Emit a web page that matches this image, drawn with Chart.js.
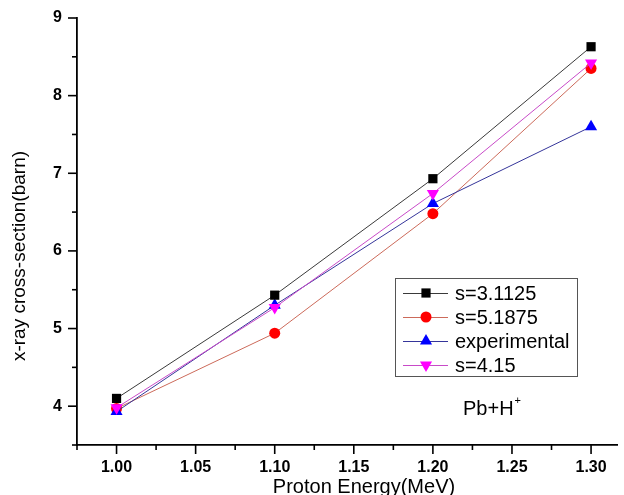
<!DOCTYPE html>
<html>
<head>
<meta charset="utf-8">
<script src="https://cdn.jsdelivr.net/npm/chart.js@4.4.1/dist/chart.umd.min.js"></script>
<style>
  html, body { margin: 0; padding: 0; background: #fff; }
  #wrap { width: 624px; height: 495px; position: relative; }
</style>
</head>
<body>
<div id="wrap"><canvas id="chart"></canvas></div>
<script>
// data
const energies = [1.00, 1.10, 1.20, 1.30];
const s31125 = [4.10, 5.43, 6.93, 8.63];
const s51875 = [3.97, 4.94, 6.48, 8.35];
const experimental = [3.93, 5.30, 6.61, 7.60];
const s415 = [3.98, 5.27, 6.74, 8.42];
const seriesNames = ['s=3.1125', 's=5.1875', 'experimental', 's=4.15'];
const xTickLabels = ['1.00', '1.05', '1.10', '1.15', '1.20', '1.25', '1.30'];
const yTickLabels = ['4', '5', '6', '7', '8', '9'];
const xTitle = 'Proton Energy(MeV)';
const yTitle = 'x-ray cross-section(barn)';

const FONT = '"Liberation Sans", Arial, sans-serif';

const toPoints = ys => energies.map((x, i) => ({ x: x, y: ys[i] }));

function withMinors(labels, half) {
  const out = [];
  labels.map(Number).forEach(m => {
    out.push({ value: +(m - half).toFixed(4) });
    out.push({ value: m });
  });
  return out;
}

const styles = [
  { line: '#3a3a3a', fill: '#000000', pointStyle: 'rect', radius: 6.5, rotation: 0 },
  { line: '#cc6a5a', fill: '#ff0000', pointStyle: 'circle', radius: 5.5, rotation: 0 },
  { line: '#35359a', fill: '#0000ff', pointStyle: 'triangle', radius: 7, rotation: 0 },
  { line: '#c84ac8', fill: '#ff00ff', pointStyle: 'triangle', radius: 7, rotation: 180 }
];
const series = [s31125, s51875, experimental, s415];

const datasets = series.map((ys, i) => ({
  label: seriesNames[i],
  data: toPoints(ys),
  borderColor: styles[i].line,
  borderWidth: 1,
  backgroundColor: styles[i].fill,
  pointBackgroundColor: styles[i].fill,
  pointBorderColor: styles[i].fill,
  pointBorderWidth: 0,
  pointStyle: styles[i].pointStyle,
  pointRadius: styles[i].radius,
  pointRotation: styles[i].rotation,
  tension: 0,
  order: [1, 3, 2, 0][i]
}));

// outward tick marks, long for labelled ticks, short for minor ones
const tickMarks = {
  id: 'tickMarks',
  afterDraw(chart) {
    const ctx = chart.ctx;
    const xs = chart.scales.x, ys = chart.scales.y;
    ctx.save();
    ctx.strokeStyle = '#000';
    ctx.lineWidth = 1.6;
    xs.ticks.forEach(t => {
      const px = xs.getPixelForValue(t.value);
      const len = t.label ? 9 : 5;
      ctx.beginPath();
      ctx.moveTo(px, xs.top);
      ctx.lineTo(px, xs.top + len);
      ctx.stroke();
    });
    ys.ticks.forEach(t => {
      const py = ys.getPixelForValue(t.value);
      const len = t.label ? 9 : 5;
      ctx.beginPath();
      ctx.moveTo(ys.right, py);
      ctx.lineTo(ys.right - len, py);
      ctx.stroke();
    });
    ctx.restore();
  }
};

// axis titles, placed where the figure has them
const axisTitles = {
  id: 'axisTitles',
  afterDraw(chart) {
    const ctx = chart.ctx;
    ctx.save();
    ctx.fillStyle = '#000';
    ctx.textAlign = 'center';
    ctx.textBaseline = 'middle';
    ctx.font = '20px ' + FONT;
    ctx.fillText(xTitle, 364, 487);
    ctx.font = '19px ' + FONT;
    ctx.translate(20, 256);
    ctx.rotate(-Math.PI / 2);
    ctx.fillText(yTitle, 0, 0);
    ctx.restore();
  }
};

function marker(ctx, st, x, y) {
  if (Chart.helpers && Chart.helpers.drawPoint) {
    ctx.fillStyle = st.fill;
    ctx.strokeStyle = st.fill;
    ctx.lineWidth = 0;
    Chart.helpers.drawPoint(ctx, { pointStyle: st.pointStyle, radius: st.radius, rotation: st.rotation, borderWidth: 0 }, x, y);
  }
}

// boxed legend and the Pb+H+ note inside the plot
const boxLegend = {
  id: 'boxLegend',
  afterDraw(chart) {
    const ctx = chart.ctx;
    ctx.save();
    ctx.strokeStyle = '#555';
    ctx.lineWidth = 1;
    ctx.strokeRect(395.5, 278.5, 182, 98);
    const rows = [293, 317, 341, 365];
    ctx.font = '20px ' + FONT;
    ctx.textBaseline = 'middle';
    ctx.textAlign = 'left';
    rows.forEach((ry, i) => {
      const st = styles[i];
      ctx.strokeStyle = st.line;
      ctx.lineWidth = 1;
      ctx.beginPath();
      ctx.moveTo(403, ry + 0.5);
      ctx.lineTo(448, ry + 0.5);
      ctx.stroke();
      marker(ctx, st, 426, ry);
      ctx.fillStyle = '#000';
      ctx.fillText(seriesNames[i], 455, ry + 1);
    });
    ctx.font = '20px ' + FONT;
    ctx.textBaseline = 'alphabetic';
    ctx.fillStyle = '#000';
    ctx.fillText('Pb+H', 463, 415);
    const w = ctx.measureText('Pb+H').width;
    ctx.font = '11px ' + FONT;
    ctx.fillText('+', 463 + w + 1, 404);
    ctx.restore();
  }
};

new Chart(document.getElementById('chart'), {
  type: 'line',
  data: { datasets: datasets },
  options: {
    responsive: true,
    maintainAspectRatio: false,
    animation: false,
    events: [],
    layout: { padding: { top: 18, right: 0, left: 0, bottom: 0 } },
    plugins: { legend: { display: false }, tooltip: { enabled: false } },
    scales: {
      x: {
        type: 'linear',
        min: 0.975,
        max: 1.3164,
        afterBuildTicks: s => { s.ticks = withMinors(xTickLabels, 0.025); },
        afterFit: s => { s.height = 50; },
        grid: { display: false, drawTicks: true, tickLength: 9 },
        border: { display: true, color: '#000', width: 1.8 },
        ticks: {
          autoSkip: false,
          maxRotation: 0,
          padding: 4,
          color: '#000',
          font: { family: FONT, size: 16, weight: 'bold' },
          callback: v => {
            const i = xTickLabels.map(Number).findIndex(m => Math.abs(m - v) < 1e-6);
            return i >= 0 ? xTickLabels[i] : '';
          }
        },
        title: { display: false }
      },
      y: {
        type: 'linear',
        min: 3.5,
        max: 9,
        afterBuildTicks: s => { s.ticks = withMinors(yTickLabels, 0.5); },
        afterFit: s => { s.width = 77; },
        grid: { display: false, drawTicks: true, tickLength: 9 },
        border: { display: true, color: '#000', width: 1.8 },
        ticks: {
          autoSkip: false,
          padding: 6,
          color: '#000',
          font: { family: FONT, size: 16, weight: 'bold' },
          callback: v => {
            const i = yTickLabels.map(Number).findIndex(m => Math.abs(m - v) < 1e-6);
            return i >= 0 ? yTickLabels[i] : '';
          }
        },
        title: { display: false }
      }
    }
  },
  plugins: [tickMarks, axisTitles, boxLegend]
});
</script>
</body>
</html>
